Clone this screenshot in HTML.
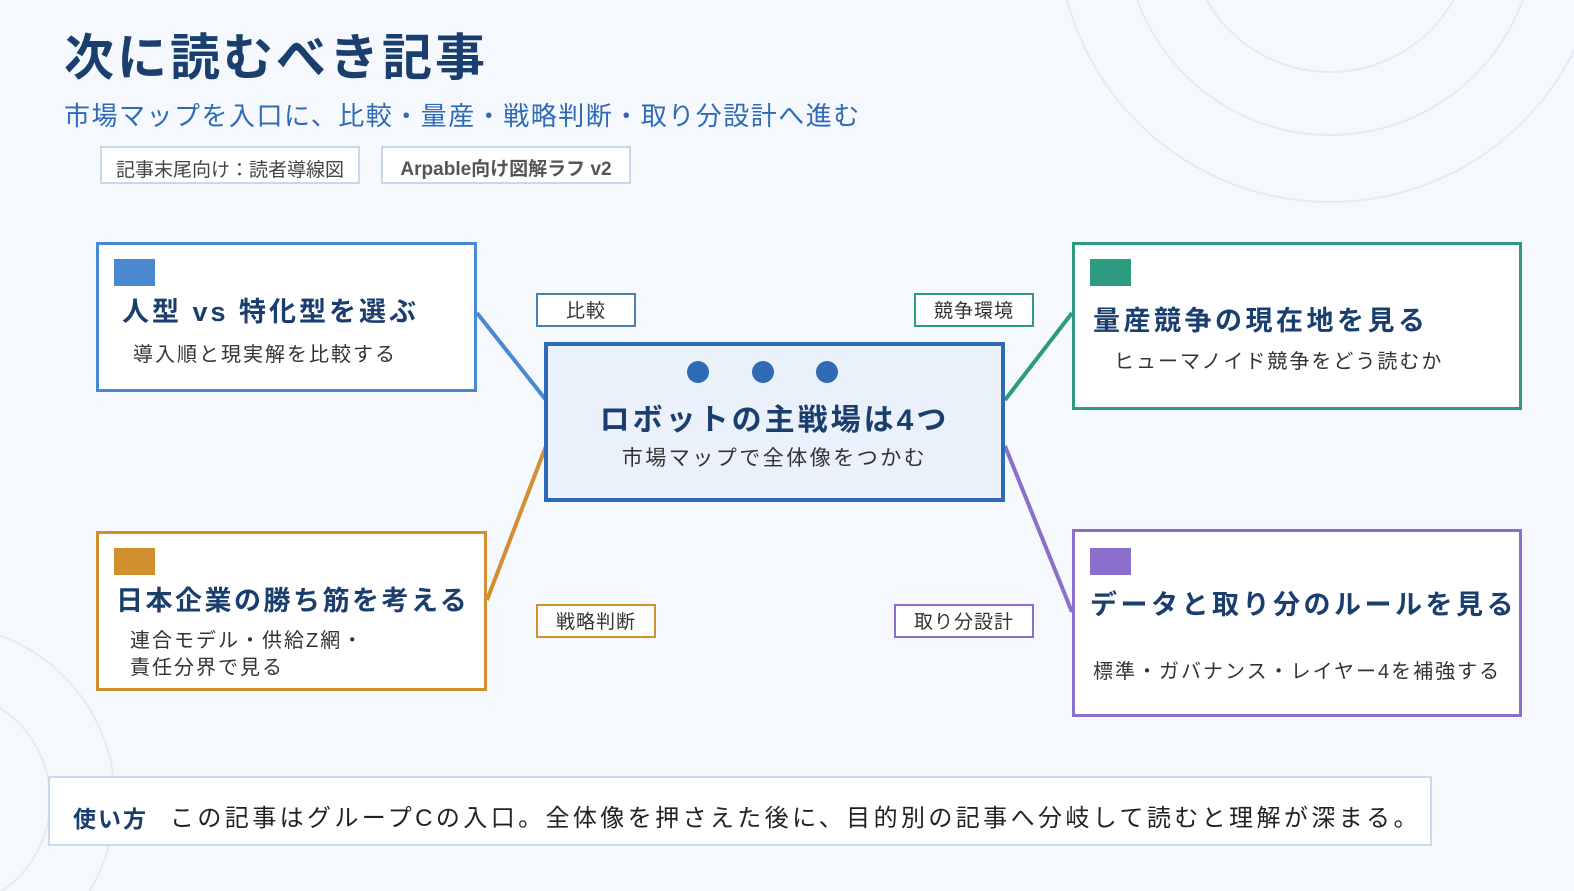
<!DOCTYPE html>
<html style="overflow:hidden;height:891px"><head><meta charset="utf-8"><style>
body{margin:0;width:1574px;height:891px;background:#f5f9fe;position:relative;overflow:hidden;font-family:"Liberation Sans","Noto Sans CJK JP",sans-serif;}
.a{position:absolute;white-space:nowrap;}
.box{position:absolute;box-sizing:border-box;background:#fff;}
.chip{position:absolute;width:41px;height:27px;}
.t{position:absolute;font-weight:bold;color:#1a3e6e;font-size:27px;white-space:nowrap;letter-spacing:3px;}
.s{position:absolute;color:#333;font-size:20px;white-space:nowrap;letter-spacing:2px;}
.lb{position:absolute;box-sizing:border-box;background:#fff;border:2px solid;font-size:19px;color:#333;text-align:center;line-height:34px;height:34px;letter-spacing:1px;}
</style></head><body>
<svg class="a" style="left:0;top:0" width="1574" height="891">
<g fill="none" stroke="#e3ebf5" stroke-width="2">
<circle cx="1330" cy="-70" r="272"/><circle cx="1330" cy="-70" r="205"/><circle cx="1330" cy="-70" r="142"/>
<circle cx="-60" cy="800" r="175"/><circle cx="-60" cy="800" r="110"/>
</g>
<g stroke-width="4">
<line x1="477" y1="313" x2="546" y2="400" stroke="#4a88d0"/>
<line x1="1005" y1="400" x2="1072" y2="313" stroke="#2e9a80"/>
<line x1="546" y1="446" x2="487" y2="600" stroke="#d0902f"/>
<line x1="1005" y1="446" x2="1072" y2="612" stroke="#8a6fcc"/>
</g>
</svg>
<div class="a" style="left:64px;top:26px;font-size:50px;font-weight:bold;color:#1a3e6e;line-height:64px;letter-spacing:3px">次に読むべき記事</div>
<div class="a" style="left:64px;top:98px;font-size:26px;color:#2f6ab5;line-height:36px;letter-spacing:1.5px">市場マップを入口に、比較・量産・戦略判断・取り分設計へ進む</div>
<div class="box" style="left:100px;top:146px;width:260px;height:38px;border:2px solid #c8d8ec;font-size:19px;color:#444;text-align:center;line-height:46px">記事末尾向け：読者導線図</div>
<div class="box" style="left:381px;top:146px;width:250px;height:38px;border:2px solid #c8d8ec;font-size:19px;color:#555;font-weight:bold;text-align:center;line-height:44px">Arpable向け図解ラフ v2</div>

<div class="box" style="left:96px;top:242px;width:381px;height:150px;border:3px solid #4a88d0"></div>
<div class="chip" style="left:114px;top:259px;background:#4a88d0"></div>
<div class="t" style="left:122px;top:290px">人型 vs 特化型を選ぶ</div>
<div class="s" style="left:133px;top:338px">導入順と現実解を比較する</div>

<div class="box" style="left:96px;top:531px;width:391px;height:160px;border:3px solid #d0902f"></div>
<div class="chip" style="left:114px;top:548px;background:#d0902f"></div>
<div class="t" style="left:116px;top:579px;letter-spacing:2.5px">日本企業の勝ち筋を考える</div>
<div class="s" style="left:130px;top:628px;line-height:27px">連合モデル・供給Z網・<br>責任分界で見る</div>

<div class="box" style="left:1072px;top:242px;width:450px;height:168px;border:3px solid #2e9a80"></div>
<div class="chip" style="left:1090px;top:259px;background:#2e9a80"></div>
<div class="t" style="left:1093px;top:299px;letter-spacing:3.5px">量産競争の現在地を見る</div>
<div class="s" style="left:1114px;top:345px">ヒューマノイド競争をどう読むか</div>

<div class="box" style="left:1072px;top:529px;width:450px;height:188px;border:3px solid #8a6fcc"></div>
<div class="chip" style="left:1090px;top:548px;background:#8a6fcc"></div>
<div class="t" style="left:1090px;top:583px;letter-spacing:3.5px">データと取り分のルールを見る</div>
<div class="s" style="left:1093px;top:655px">標準・ガバナンス・レイヤー4を補強する</div>

<div class="box" style="left:544px;top:342px;width:461px;height:160px;border:4px solid #2f6ab5;background:#eaf1fb"></div>
<svg class="a" style="left:680px;top:355px" width="170" height="34"><g fill="#2f6ab5"><circle cx="18" cy="17" r="11"/><circle cx="83" cy="17" r="11"/><circle cx="147" cy="17" r="11"/></g></svg>
<div class="t" style="left:544px;width:461px;text-align:center;top:395px;font-size:30px">ロボットの主戦場は4つ</div>
<div class="s" style="left:544px;width:461px;text-align:center;top:442px;font-size:21px;letter-spacing:2.5px">市場マップで全体像をつかむ</div>

<div class="lb" style="left:536px;top:293px;width:100px;border-color:#4a7fb0">比較</div>
<div class="lb" style="left:914px;top:293px;width:120px;border-color:#2e9a80">競争環境</div>
<div class="lb" style="left:536px;top:604px;width:120px;border-color:#d0902f">戦略判断</div>
<div class="lb" style="left:894px;top:604px;width:140px;border-color:#8a6fcc">取り分設計</div>

<div class="box" style="left:48px;top:776px;width:1384px;height:70px;border:2px solid #c9d9ee"></div>
<div class="a" style="left:73px;top:800px;font-size:23px;font-weight:bold;color:#1a3e6e;letter-spacing:2px">使い方</div>
<div class="a" style="left:170px;top:798px;font-size:24px;color:#222;letter-spacing:3.4px">この記事はグループCの入口。全体像を押さえた後に、目的別の記事へ分岐して読むと理解が深まる。</div>
</body></html>
